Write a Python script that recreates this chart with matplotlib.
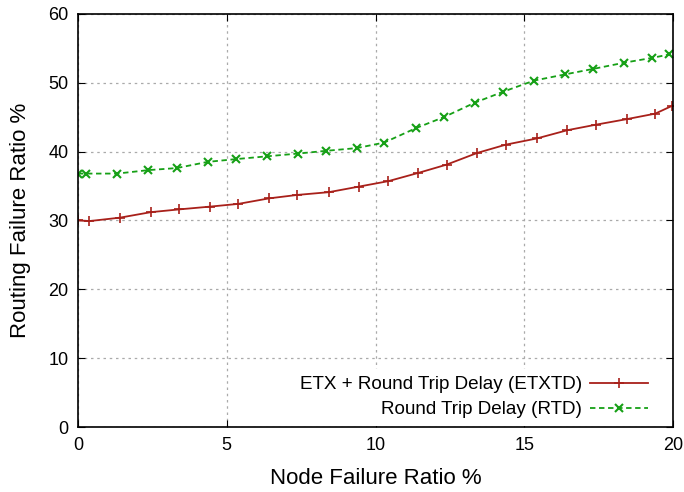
import matplotlib
matplotlib.use("Agg")
import matplotlib.pyplot as plt

plt.rcParams['font.family'] = ['Liberation Sans', 'DejaVu Sans']

# ETXTD series
x_etx = [0, 0.38, 1.41, 2.45, 3.4, 4.43, 5.39, 6.42, 7.37, 8.43, 9.43,
         10.43, 11.44, 12.39, 13.42, 14.38, 15.42, 16.45, 17.41, 18.44, 19.4, 19.95]
y_etx = [30.0, 29.9, 30.4, 31.2, 31.6, 32.0, 32.4, 33.2, 33.7, 34.1, 34.9,
         35.7, 36.9, 38.1, 39.8, 41.0, 41.9, 43.1, 43.9, 44.7, 45.5, 46.6]

# RTD series
x_rtd = [0, 0.27, 1.32, 2.36, 3.32, 4.36, 5.31, 6.34, 7.38, 8.33, 9.37,
         10.29, 11.36, 12.3, 13.34, 14.3, 15.33, 16.37, 17.32, 18.36, 19.3, 19.88]
y_rtd = [36.8, 36.8, 36.8, 37.3, 37.6, 38.5, 38.9, 39.3, 39.7, 40.1, 40.5,
         41.3, 43.4, 45.0, 47.1, 48.7, 50.3, 51.2, 52.0, 52.9, 53.6, 54.1]

fig = plt.figure(figsize=(6.84, 4.92), dpi=100)
ax = fig.add_axes([0.114, 0.132, 0.870, 0.840])

ax.plot(x_etx, y_etx, color='#a8201a', lw=1.3, marker='+', ms=7, mew=1.2,
        label='ETX + Round Trip Delay (ETXTD)')
ax.plot(x_rtd, y_rtd, color='#16a016', lw=1.3, ls=(0, (3, 2)), marker='x', ms=5.5, mew=1.5,
        label='Round Trip Delay (RTD)')

ax.set_xlim(0, 20)
ax.set_ylim(0, 60)
ax.set_xticks([0, 5, 10, 15, 20])
ax.set_yticks(range(0, 61, 10))
ax.tick_params(direction='in', top=True, right=True, length=5, labelsize=13, pad=7)
ax.grid(True, color='#aaaaaa', ls=(0, (2, 3)), lw=0.9)
for s in ax.spines.values():
    s.set_linewidth(1.2)

ax.set_xlabel('Node Failure Ratio %', fontsize=16, labelpad=10)
ax.set_ylabel('Routing Failure Ratio %', fontsize=16, labelpad=12)

leg = ax.legend(loc='lower right', bbox_to_anchor=(0.971, 0.003), borderaxespad=0,
                fontsize=13.6, markerfirst=False, frameon=True,
                handlelength=3.1, handletextpad=0.4, labelspacing=0.41,
                fancybox=False, framealpha=1)
leg.get_frame().set_edgecolor('none')
leg.set_zorder(2.2)
for t in leg.get_texts():
    t.set_ha('right')

fig.savefig('out.png', dpi=100)
